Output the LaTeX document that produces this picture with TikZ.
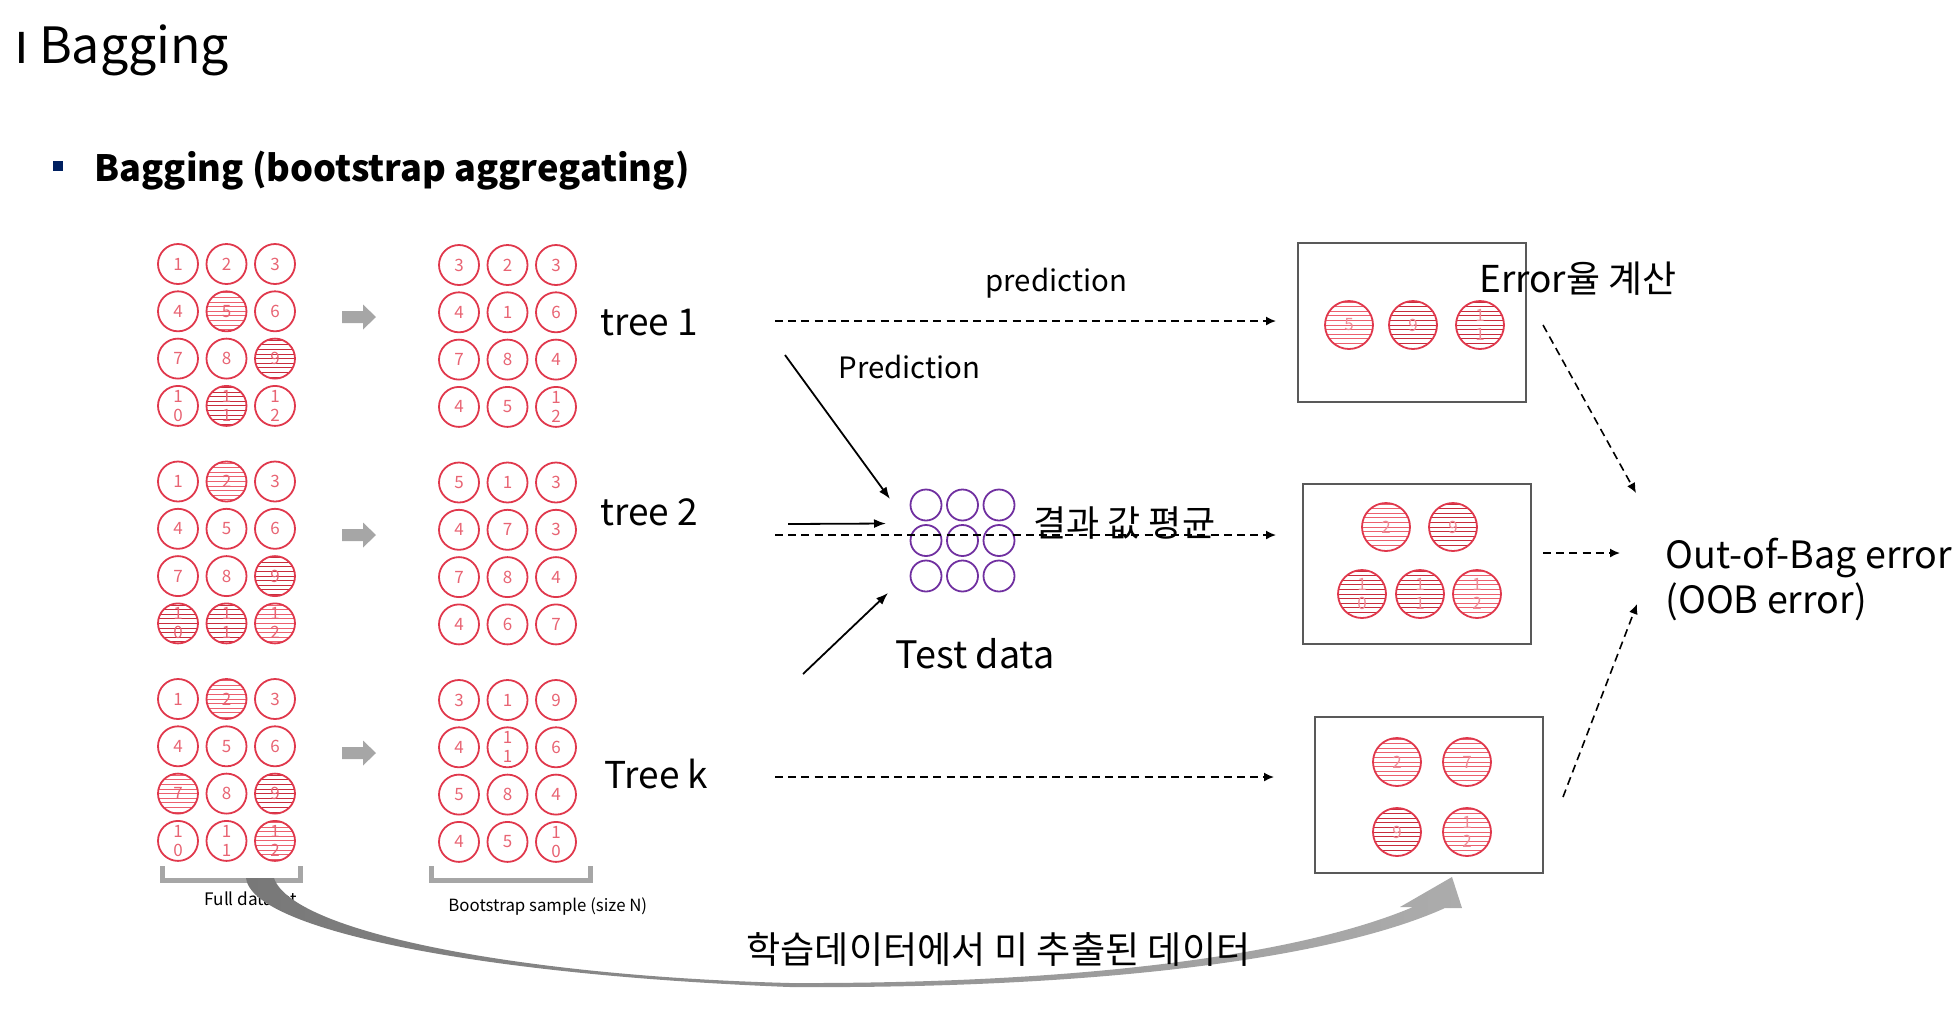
\documentclass[tikz,border=0pt]{standalone}
\usepackage{fontspec}
\setmainfont{Noto Sans CJK KR}
\usetikzlibrary{arrows.meta}

\definecolor{sred}{RGB}{224,56,76}
\definecolor{snum}{RGB}{232,100,115}
\definecolor{hatchlight}{RGB}{236,96,110}
\definecolor{hatchdark}{RGB}{200,44,60}
\definecolor{tpurple}{RGB}{112,48,160}
\definecolor{navy}{RGB}{0,32,96}
\definecolor{arrowgray}{RGB}{166,166,166}
\definecolor{boxgray}{RGB}{89,89,89}
\definecolor{curvedark}{RGB}{120,120,120}
\definecolor{curvelight}{RGB}{172,172,172}

\begin{document}
\begin{tikzpicture}[x=0.5pt,y=-0.5pt]
  \tikzstyle{lbl} = [inner sep=0pt, anchor=base west]
  \tikzstyle{treelbl} = [lbl, font=\fontsize{18.5}{18.5}\selectfont]
  \tikzstyle{sample} = [circle, draw=sred, line width=0.9pt, minimum size=20pt, inner sep=0pt, align=center, text=snum, font=\fontsize{8.5}{9.5}\selectfont]
  \tikzstyle{oobpt} = [sample, minimum size=24pt, text=snum!75]
  \tikzstyle{hatch} = [path picture={\foreach \h in {-6,...,6} \draw[#1, line width=0.5pt] ([yshift=\h*2.3pt]path picture bounding box.west) -- ([yshift=\h*2.3pt]path picture bounding box.east);}]
  \tikzstyle{inbag} = []
  \tikzstyle{ooblight} = [hatch=hatchlight]
  \tikzstyle{oobdark} = [hatch=hatchdark]
  \tikzstyle{testpt} = [circle, draw=tpurple, line width=0.9pt, minimum size=15.5pt, inner sep=0pt]
  \tikzstyle{oobbox} = [rectangle, draw=boxgray, line width=1pt, minimum width=114pt, inner sep=0pt]
  \tikzstyle{bracket} = [draw=arrowgray, line width=2.5pt]
  \tikzstyle{solidarrow} = [line width=0.9pt, -{Latex[length=6pt,width=4.5pt]}]
  \tikzstyle{dasharrow} = [line width=0.8pt, dash pattern=on 4pt off 2.6pt, -{Latex[length=5pt,width=4.5pt]}]

  \useasboundingbox (0,0) rectangle (1960,1014);

  \node[lbl, font=\fontsize{25}{25}\selectfont] (title) at (14,63) {\scalebox{1}[0.85]{I}\hspace{5pt}Bagging};
  \node[fill=navy, minimum size=5pt, inner sep=0pt] (bullet) at (57.5,166) {};
  \node[lbl, font=\bfseries\fontsize{18.1}{18.1}\selectfont] (subtitle) at (94,181) {Bagging (bootstrap aggregating)};

  \foreach \b/\cells in {0/{1/inbag,2/inbag,3/inbag,4/inbag,5/ooblight,6/inbag,7/inbag,8/inbag,9/oobdark,{1\\0}/inbag,{1\\1}/oobdark,{1\\2}/inbag},
                         1/{1/inbag,2/ooblight,3/inbag,4/inbag,5/inbag,6/inbag,7/inbag,8/inbag,9/oobdark,{1\\0}/oobdark,{1\\1}/oobdark,{1\\2}/ooblight},
                         2/{1/inbag,2/ooblight,3/inbag,4/inbag,5/inbag,6/inbag,7/ooblight,8/inbag,9/oobdark,{1\\0}/inbag,{1\\1}/inbag,{1\\2}/ooblight}} {
    \foreach \lab/\kind [count=\i from 0] in \cells {
      \pgfmathtruncatemacro\row{\i/3}
      \pgfmathtruncatemacro\col{\i-3*\row}
      \node[sample, \kind] (full\b-\i) at (178+48.5*\col, 264+217.5*\b+47.3*\row) {\lab};
    }
  }
  \foreach \b/\cells in {0/{3,2,3,4,1,6,7,8,4,4,5,{1\\2}},
                         1/{5,1,3,4,7,3,7,8,4,4,6,7},
                         2/{3,1,9,4,{1\\1},6,5,8,4,4,5,{1\\0}}} {
    \foreach \lab [count=\i from 0] in \cells {
      \pgfmathtruncatemacro\row{\i/3}
      \pgfmathtruncatemacro\col{\i-3*\row}
      \node[sample] (boot\b-\i) at (459+48.5*\col, 265+217.5*\b+47.3*\row) {\lab};
    }
  }
  \foreach \b in {0,1,2}
    \fill[arrowgray] (342,317+218*\b) ++(0,-6) -- ++(21,0) -- ++(0,-6.5) -- ++(13,12.5) -- ++(-13,12.5) -- ++(0,-6.5) -- ++(-21,0) -- cycle;

  \node[treelbl] (tree1) at (600,335) {tree 1};
  \node[treelbl] (tree2) at (600,525) {tree 2};
  \node[treelbl] (treek) at (604,788) {Tree k};

  \foreach \i in {0,...,8} {
    \pgfmathtruncatemacro\row{\i/3}
    \pgfmathtruncatemacro\col{\i-3*\row}
    \node[testpt] (test\i) at (926+36.5*\col, 505+35.5*\row) {};
  }

  \node[oobbox, minimum height=79.5pt] (box1) at (1412,322.5) {};
  \node[oobbox, minimum height=80pt] (box2) at (1417,564) {};
  \node[oobbox, minimum height=78pt] (box3) at (1429,795) {};
  \foreach \name/\px/\py/\lab/\kind in {b1a/1349/325/5/ooblight, b1b/1413/325/9/oobdark, b1c/1480/325/{1\\1}/oobdark,
      b2a/1386/527/2/ooblight, b2b/1453/527/9/oobdark, b2c/1362/594/{1\\0}/oobdark, b2d/1420/594/{1\\1}/oobdark, b2e/1477/594/{1\\2}/ooblight,
      b3a/1397/762/2/ooblight, b3b/1467/762/7/ooblight, b3c/1397/832/9/oobdark, b3d/1467/832/{1\\2}/ooblight}
    \node[oobpt, \kind] (\name) at (\px,\py) {\lab};

  \node[lbl, font=\fontsize{14.7}{14.7}\selectfont] (predtop) at (985,291) {prediction};
  \node[lbl, font=\fontsize{14.7}{14.7}\selectfont] (predmid) at (838,378) {Prediction};
  \node[lbl, font=\fontsize{18.9}{18.9}\selectfont] (testlbl) at (895,668) {Test data};
  \node[lbl, font=\fontsize{18.5}{18.5}\selectfont] (errlbl) at (1479,292) {Error율 계산};
  \node[lbl, align=left, font=\fontsize{18.8}{22.5}\selectfont] (ooberr) at (1665,613) {Out-of-Bag error\\(OOB error)};

  \coordinate (s1) at (775,321);
  \coordinate (s2) at (775,535);
  \coordinate (s3) at (775,777);
  \draw[dasharrow, shorten >=10.5pt] (s1) -- (s1 -| box1.west);
  \draw[dasharrow, shorten >=13pt] (s2) -- (s2 -| box2.west);
  \draw[dasharrow, shorten >=20pt] (s3) -- (s3 -| box3.west);

  \coordinate (from1) at (785,355);
  \coordinate (from2) at (788,524);
  \coordinate (from3) at (803,674);
  \draw[solidarrow] (from1) -- ([shift={(-36,-6)}]test0.center);
  \draw[solidarrow] (from2) -- ([shift={(-40,-17)}]test3.center);
  \draw[solidarrow] (from3) -- ([shift={(-38,17)}]test6.center);

  \node[lbl, font=\fontsize{18}{18}\selectfont] (avg) at (1033,536) {결과 값 평균};

  \draw[dasharrow] ([shift={(16,2.5)}]box1.east) -- ([shift={(-29,-120)}]ooberr.base west);
  \draw[dasharrow] ([shift={(11,-11)}]box2.east) -- ([shift={(-45,-60)}]ooberr.base west);
  \draw[dasharrow] ([shift={(19,2)}]box3.east) -- ([shift={(-28,-9)}]ooberr.base west);

  \draw[bracket] (162,866) -- (162,880) -- (300,880) -- (300,866);
  \draw[bracket] (431,866) -- (431,880) -- (590,880) -- (590,866);
  \node[lbl, font=\fontsize{8.6}{8.6}\selectfont] (fulllbl) at (204,905) {Full dataset};
  \node[lbl, font=\fontsize{8.4}{8.4}\selectfont] (bootlbl) at (448,911) {Bootstrap sample (size N)};

  \shade[left color=curvedark, right color=curvelight] (246,878) .. controls (252,930) and (480,975) .. (790,987)
    .. controls (1090,989) and (1330,960) .. (1445,908) -- (1462,908) -- (1452,877) -- (1400,907) -- (1413,907)
    .. controls (1300,955) and (1080,984) .. (790,983) .. controls (520,976) and (292,932) .. (274,878) -- cycle;

  \node[lbl, font=\fontsize{18.6}{18.6}\selectfont] (unused) at (746,963) {학습데이터에서 미 추출된 데이터};
\end{tikzpicture}
\end{document}
